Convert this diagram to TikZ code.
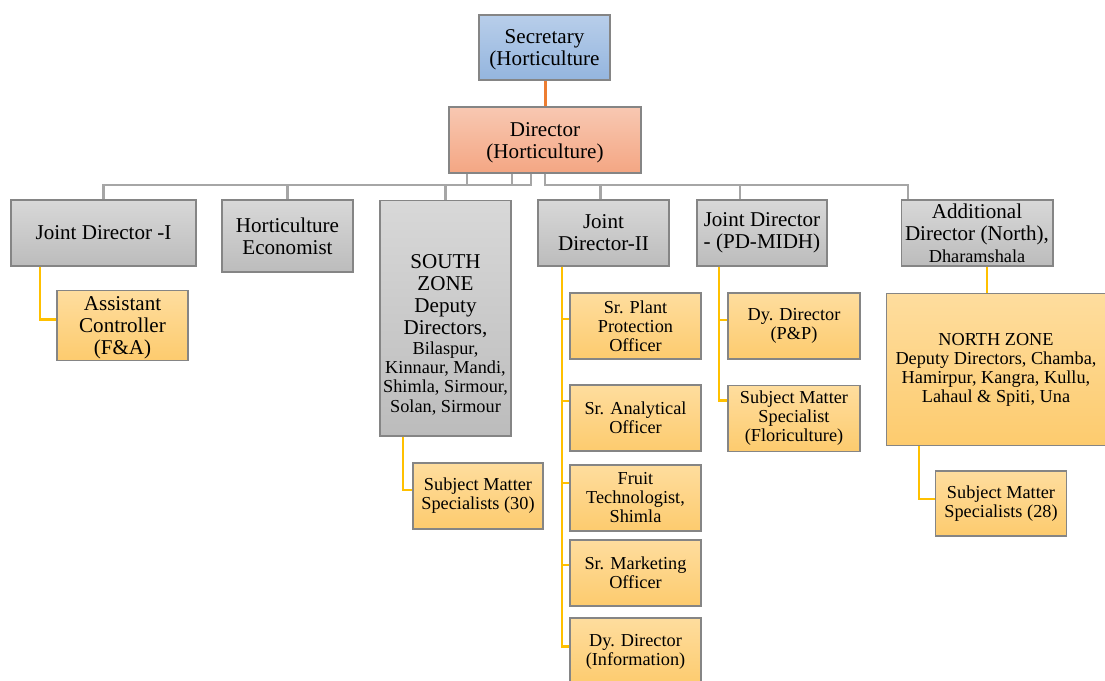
\documentclass[tikz,border=0pt]{standalone}
\usepackage{fontspec}
\setmainfont{Liberation Serif}
\usetikzlibrary{calc}

\definecolor{boxline}{HTML}{858585}
\definecolor{blueT}{HTML}{B8CEEA}
\definecolor{blueB}{HTML}{94B5DE}
\definecolor{salT}{HTML}{F8C8B2}
\definecolor{salB}{HTML}{F4A683}
\definecolor{greyT}{HTML}{D8D8D8}
\definecolor{greyB}{HTML}{BCBCBC}
\definecolor{yelT}{HTML}{FEDD9E}
\definecolor{yelB}{HTML}{FDCB6E}
\definecolor{busgrey}{HTML}{A6A6A6}
\definecolor{subyellow}{HTML}{FFC000}
\definecolor{orangeline}{HTML}{ED7D31}

\newcommand{\bigtxt}{\fontsize{12}{12.5}\selectfont}
\newcommand{\smalltxt}{\fontsize{10.4}{10.8}\selectfont}

\tikzset{
  box/.style={draw=boxline, line width=0.6pt, align=center, inner sep=1pt,
    minimum width=2.62cm, minimum height=1.32cm, font=\bigtxt},
  topbox/.style={box, top color=blueT, bottom color=blueB},
  dirbox/.style={box, top color=salT, bottom color=salB},
  headbox/.style={box, top color=greyT, bottom color=greyB},
  unitbox/.style={box, top color=yelT, bottom color=yelB, font=\smalltxt},
  busline/.style={draw=busgrey, line width=1.3pt},
  subline/.style={draw=subyellow, line width=1.4pt},
}

\begin{document}
\begin{tikzpicture}[x=0.02cm, y=-0.02cm]
    \useasboundingbox (0,0) rectangle (1105,680);

    % Top levels
    \node[topbox, minimum height=1.30cm] (sec) at (544.5,47.5) {\rule{0pt}{11pt}Secretary\\(Horticulture};
    \node[dirbox, minimum width=3.84cm] (dir) at (545,140) {\rule{0pt}{11pt}Director\\(Horticulture)};

    % Heads under the Director
    \node[headbox, minimum width=3.70cm] (jdone) at (103.5,233) {Joint Director -I};
    \node[headbox, minimum height=1.44cm] (hecon) at (287.5,236) {Horticulture\\Economist};
    \node[headbox, minimum height=4.72cm] (south) at (445.5,318)
      {\rule{0pt}{27pt}SOUTH\\ZONE\\Deputy\\Directors,\\[-1.3pt]\smalltxt Bilaspur,\\[-1.5pt]\smalltxt Kinnaur, Mandi,\\[-1.5pt]\smalltxt Shimla, Sirmour,\\[-1.5pt]\smalltxt Solan, Sirmour};
    \node[headbox] (jdtwo) at (603.5,233) {Joint\\Director-II};
    \node[headbox, minimum width=2.60cm] (midh) at (762,233) {Joint Director\\- (PD-MIDH)};
    \node[headbox, minimum width=3.04cm] (addl) at (977,233)
      {Additional\\Director (North),\\\smalltxt Dharamshala};

    % Units
    \node[unitbox, font=\bigtxt, minimum height=1.30cm] (acfa) at (122.5,325.5) {\rule{0pt}{10pt}Assistant\\Controller\\(F\&A)};
    \node[unitbox, minimum width=2.60cm] (smsS) at (478,496) {Subject Matter\\Specialists (30)};
    \node[unitbox] (spo) at (635.5,326) {Sr. Plant\\Protection\\Officer};
    \node[unitbox] (sao) at (635.5,418) {Sr. Analytical\\Officer};
    \node[unitbox] (ftech) at (635.5,498) {Fruit\\Technologist,\\Shimla};
    \node[unitbox] (smo) at (635.5,573) {Sr. Marketing\\Officer};
    \node[unitbox, minimum height=1.34cm] (ddinfo) at (635.5,651.5) {Dy. Director\\(Information)};
    \node[unitbox, minimum width=2.64cm] (ddpp) at (794,326) {Dy. Director\\(P\&P)};
    \node[unitbox, minimum width=2.64cm] (smsflori) at (794,418.5) {Subject Matter\\Specialist\\(Floriculture)};
    \node[unitbox, minimum width=4.40cm, minimum height=3.04cm] (north) at (996,369.5)
      {NORTH ZONE\\Deputy Directors, Chamba,\\Hamirpur, Kangra, Kullu,\\Lahaul \& Spiti, Una};
    \node[unitbox, minimum height=1.30cm] (smsN) at (1001,503.5) {Subject Matter\\Specialists (28)};

    % Secretary to Director
    \draw[draw=orangeline, line width=1.7pt] (dir.north) -- (dir.north |- sec.south);

    % Director to heads
    \coordinate (bus) at (0,185);
    \draw[busline] ($(dir.south)+(-78,0)$) |- (bus -| jdone.north) -- (jdone.north);
    \draw[busline] ($(dir.south)+(-33,0)$) |- (bus -| hecon.north) -- (hecon.north);
    \draw[busline] ($(dir.south)+(-14,0)$) |- (bus -| south.north) -- (south.north);
    \coordinate (jdtwoin) at ($(jdtwo.north)+(-3,0)$);
    \coordinate (midhin) at ($(midh.north)+(-22,0)$);
    \coordinate (addlin) at ($(addl.north)+(-69,0)$);
    \foreach \n in {jdtwoin, midhin, addlin}
      \draw[busline] (dir.south) |- (bus -| \n) -- (\n);

    % Heads to units
    \coordinate (jdoneout) at ($(jdone.south)+(-63.5,0)$);
    \draw[subline] (jdoneout) |- ($(acfa.west)+(0,-6)$);
    \coordinate (southout) at ($(south.south)+(-42.5,0)$);
    \draw[subline] (southout) |- ($(smsS.west)+(0,-6)$);
    \coordinate (jdtwoout) at ($(jdtwo.south)+(-41.5,0)$);
    \foreach \n/\dy in {spo/-7, sao/-17, ftech/-15, smo/-8, ddinfo/-5}
      \draw[subline] (jdtwoout) |- ($(\n.west)+(0,\dy)$);
    \coordinate (midhout) at ($(midh.south)+(-43,0)$);
    \foreach \n/\dy in {ddpp/-6, smsflori/-18}
      \draw[subline] (midhout) |- ($(\n.west)+(0,\dy)$);
    \coordinate (addlout) at ($(addl.south)+(10,0)$);
    \draw[subline] (addlout) -- (addlout |- north.north);
    \coordinate (northout) at ($(north.south)+(-77,0)$);
    \draw[subline] (northout) |- ($(smsN.west)+(0,-4.5)$);
  \end{tikzpicture}
\end{document}
